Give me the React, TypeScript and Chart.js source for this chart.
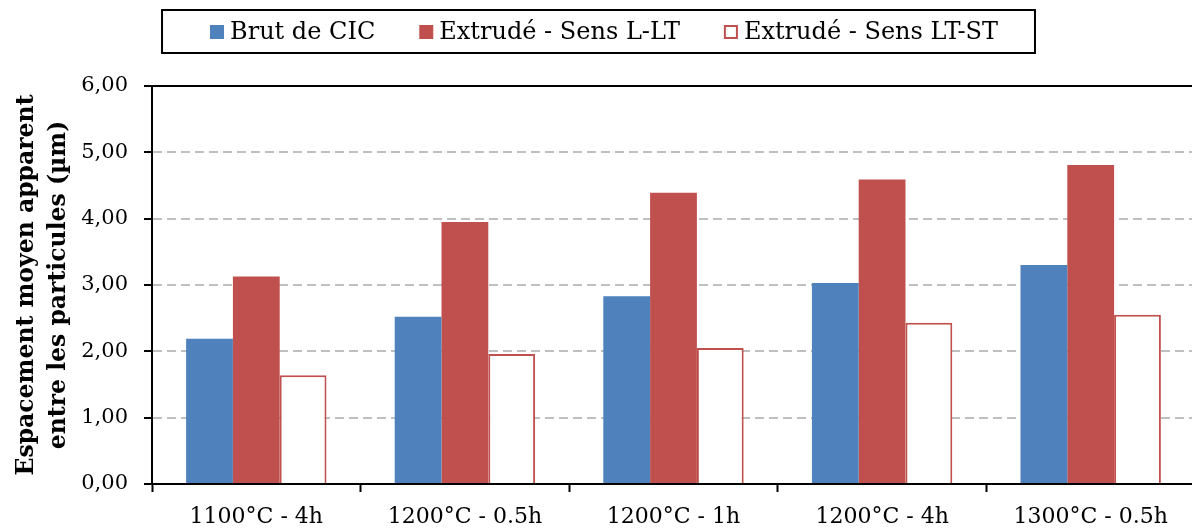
import React, { useEffect, useRef } from "react";
import { Chart, registerables } from "chart.js";

Chart.register(...registerables);

const categories = ["1100°C - 4h", "1200°C - 0.5h", "1200°C - 1h", "1200°C - 4h", "1300°C - 0.5h"];
const seriesNames = ["Brut de CIC", "Extrudé - Sens L-LT", "Extrudé - Sens LT-ST"];
const brutValues = [2.19, 2.52, 2.83, 3.03, 3.3];
const llValues = [3.13, 3.95, 4.39, 4.59, 4.81];
const ltstValues = [1.64, 1.96, 2.05, 2.43, 2.55];
const yTitle = ["Espacement moyen apparent", "entre les particules (µm)"];
const yMin = 0;
const yMax = 6;
const yStep = 1;

const SERIF = "'DejaVu Serif', 'Liberation Serif', serif";

const legendPlugin = {
  id: "boxedLegend",
  afterDraw(chart: any) {
    const ctx = chart.ctx;
    const ds = chart.data.datasets;
    const fontSize = 24;
    ctx.save();
    ctx.font = `${fontSize}px ${SERIF}`;
    const box = 14;
    const gapBoxText = 6;
    const gapItems = 44;
    const widths = ds.map((d: any) => ctx.measureText(d.label).width);
    let total = 0;
    widths.forEach((w: number, i: number) => {
      total += box + gapBoxText + w + (i < widths.length - 1 ? gapItems : 0);
    });
    const cy = 32;
    let x = 604 - total / 2;
    const left = x - 48;
    const right = x + total + 37;
    ctx.lineWidth = 2;
    ctx.strokeStyle = "#000";
    ctx.strokeRect(left, 10, right - left, 43);
    ds.forEach((d: any, i: number) => {
      ctx.fillStyle = d.backgroundColor;
      ctx.fillRect(x, cy - box / 2, box, box);
      if (d.borderWidth) {
        ctx.strokeStyle = d.borderColor;
        ctx.lineWidth = 2;
        ctx.strokeRect(x + 1, cy - box / 2 + 1, box - 2, box - 2);
      }
      ctx.fillStyle = "#000";
      ctx.textBaseline = "middle";
      ctx.textAlign = "left";
      ctx.fillText(d.label, x + box + gapBoxText, cy + 1);
      x += box + gapBoxText + widths[i] + gapItems;
    });
    ctx.restore();
  },
};

const topBorderPlugin = {
  id: "topBorder",
  afterDatasetsDraw(chart: any) {
    const { ctx, chartArea } = chart;
    ctx.save();
    ctx.strokeStyle = "#000";
    ctx.lineWidth = 2;
    ctx.beginPath();
    ctx.moveTo(chartArea.left - 8, chartArea.top);
    ctx.lineTo(chartArea.right, chartArea.top);
    ctx.stroke();
    ctx.restore();
  },
};

export default function App() {
  const ref = useRef<HTMLCanvasElement>(null);
  useEffect(() => {
    document.body.style.margin = "0";
    const chart = new Chart(ref.current as HTMLCanvasElement, {
      type: "bar",
      data: {
        labels: categories,
        datasets: [
          { label: seriesNames[0], data: brutValues, backgroundColor: "#4F81BD", borderWidth: 0 },
          { label: seriesNames[1], data: llValues, backgroundColor: "#C0504D", borderWidth: 0 },
          {
            label: seriesNames[2],
            data: ltstValues,
            backgroundColor: "#FFFFFF",
            borderColor: "#C0504D",
            borderWidth: 2,
          },
        ],
      },
      options: {
        responsive: false,
        animation: false,
        devicePixelRatio: 1,
        layout: { padding: { top: 86, left: 0, right: 0, bottom: 0 } },
        datasets: { bar: { categoryPercentage: 0.673, barPercentage: 1 } },
        plugins: { legend: { display: false }, tooltip: { enabled: false } },
        scales: {
          x: {
            afterFit(scale: any) {
              scale.height = 44;
              scale.paddingLeft = 0;
              scale.paddingRight = 0;
            },
            grid: {
              display: true,
              drawOnChartArea: false,
              drawTicks: true,
              tickLength: 8,
              tickWidth: 2,
              tickColor: "#000",
              offset: true,
            },
            border: { display: true, color: "#000", width: 2 },
            ticks: {
              color: "#000",
              padding: 12,
              maxRotation: 0,
              font: { family: SERIF, size: 22 },
            },
          },
          y: {
            min: yMin,
            max: yMax,
            afterFit(scale: any) {
              scale.width = 152;
              scale.paddingTop = 0;
              scale.paddingBottom = 0;
            },
            grid: {
              color: (c: any) =>
                c.tick && (c.tick.value === yMin || c.tick.value === yMax) ? "rgba(0,0,0,0)" : "#BFBFBF",
              lineWidth: 2,
              drawTicks: true,
              tickLength: 8,
              tickWidth: 2,
              tickColor: "#000",
            },
            border: { display: true, color: "#000", width: 2, dash: [9, 5] },
            ticks: {
              stepSize: yStep,
              color: "#000",
              padding: 16,
              font: { family: SERIF, size: 21 },
              callback: (v: any) => Number(v).toFixed(2).replace(".", ","),
            },
            title: {
              display: true,
              text: yTitle,
              color: "#000",
              font: { family: SERIF, size: 23.5, weight: "bold", lineHeight: 1.4 },
              padding: { top: 10, bottom: 0 },
            },
          },
        },
      },
      plugins: [legendPlugin, topBorderPlugin],
    } as any);
    return () => chart.destroy();
  }, []);
  return (
    <div style={{ width: 1192, height: 528, overflow: "hidden", position: "relative", background: "#fff" }}>
      <canvas ref={ref} width={1195} height={528} style={{ display: "block" }} />
    </div>
  );
}
